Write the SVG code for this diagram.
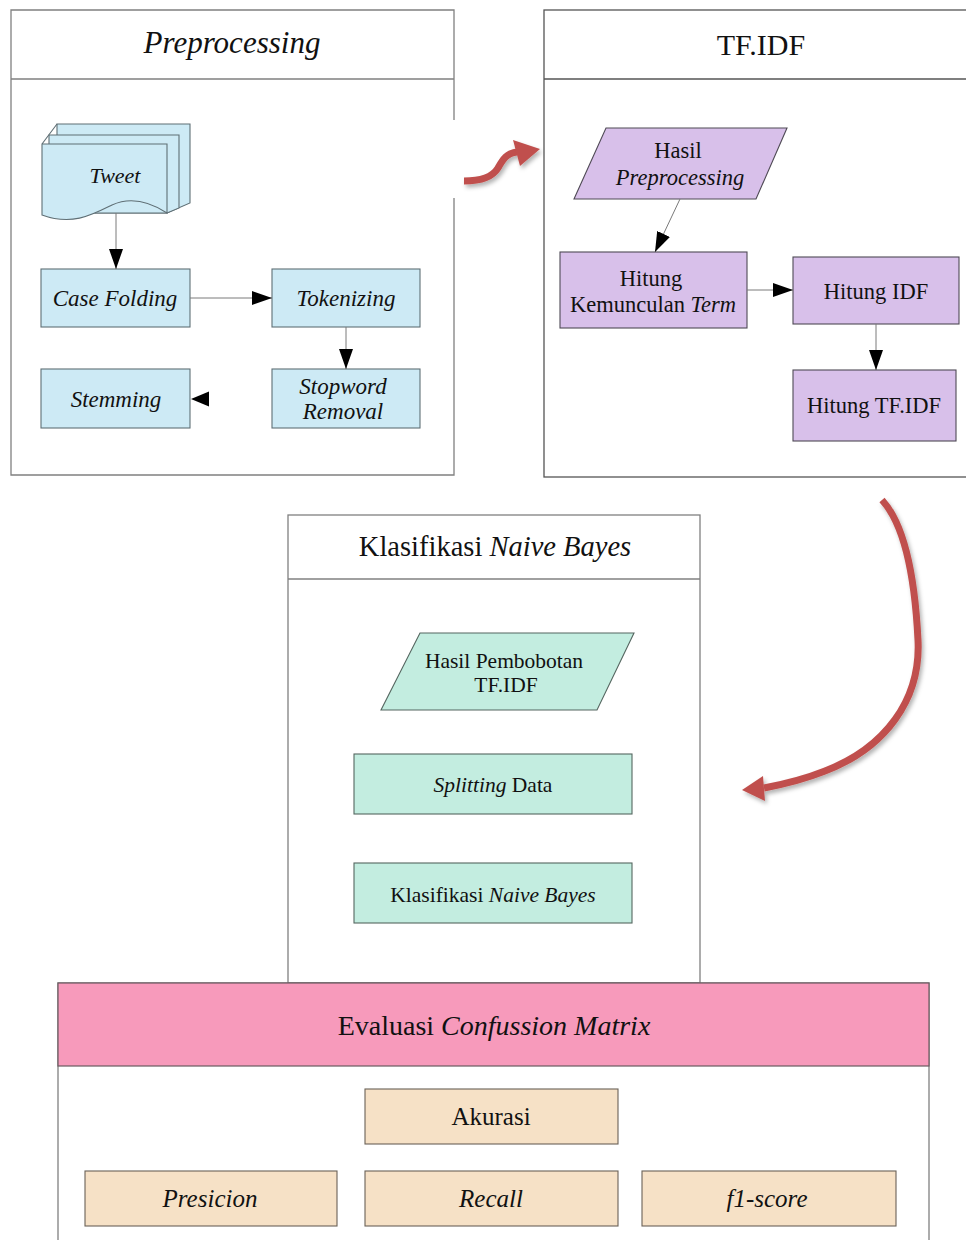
<svg xmlns="http://www.w3.org/2000/svg" width="966" height="1240" viewBox="0 0 966 1240">
<style>
text{font-family:"Liberation Serif","Times New Roman",serif;fill:#111;text-anchor:middle}
.it{font-style:italic}
.hdr{stroke:#808080;stroke-width:1.3;fill:none}
.blue{fill:#cdeaf5;stroke:#5f6f75;stroke-width:1.1}
.lav{fill:#d8c0ea;stroke:#4f4a55;stroke-width:1.1}
.mint{fill:#c3ede0;stroke:#556660;stroke-width:1.1}
.bis{fill:#f6e1c6;stroke:#6a6258;stroke-width:1.1}
.conn{stroke:#7a7a7a;stroke-width:1;fill:none}
.red{stroke:#c0504d;stroke-width:7;fill:none;stroke-linecap:butt}
.redh{fill:#c0504d}
</style>
<defs>
<marker id="ah" viewBox="0 0 20 14" markerWidth="20" markerHeight="14" refX="20" refY="7" orient="auto" markerUnits="userSpaceOnUse">
<path d="M0,0 L20,7 L0,14 Z" fill="#000"/>
</marker>
<filter id="sh" x="-20%" y="-20%" width="140%" height="140%">
<feDropShadow dx="2" dy="3" stdDeviation="2" flood-color="#000" flood-opacity="0.3"/>
</filter>
</defs>

<!-- Preprocessing container -->
<g id="preprocessing">
<rect x="11" y="10" width="443" height="465" fill="#fff"/>
<path class="hdr" d="M454,120 V10 H11 V475 H454 V198 M11,79 H454"/>
<text class="it" x="232" y="53" font-size="31">Preprocessing</text>
</g>

<g id="tweet">
<path class="blue" d="M57,124 H190 V203 L167,213 H57 Z"/>
<path class="blue" d="M49,135 H179 V208 L167,213 H49 Z"/>
<path class="blue" d="M42,144 L57,124 M42,144 H167 V213 C150,202 132,196 112,205 C92,215 72,226 42,215 Z"/>
<text class="it" x="115" y="183" font-size="22">Tweet</text>
</g>
<g id="case-folding">
<rect class="blue" x="41" y="269" width="149" height="58"/>
<text class="it" x="115" y="306" font-size="23">Case Folding</text>
</g>
<g id="tokenizing">
<rect class="blue" x="272" y="269" width="148" height="58"/>
<text class="it" x="346" y="306" font-size="23">Tokenizing</text>
</g>
<g id="stemming">
<rect class="blue" x="41" y="369" width="149" height="59"/>
<text class="it" x="116" y="407" font-size="23">Stemming</text>
</g>
<g id="stopword-removal">
<rect class="blue" x="272" y="369" width="148" height="59"/>
<text class="it" x="343" y="394" font-size="23">Stopword</text>
<text class="it" x="343" y="419" font-size="23">Removal</text>
</g>

<!-- TF.IDF container -->
<g id="tfidf">
<rect x="544" y="10" width="440" height="467" fill="#fff" stroke="#555" stroke-width="1.3"/>
<path d="M544,79 H984" stroke="#555" stroke-width="1.3"/>
<text x="761" y="55" font-size="30">TF.IDF</text>
</g>
<g id="hasil-preprocessing">
<polygon class="lav" points="606,128 787,128 756,199 574,199"/>
<text x="678" y="158" font-size="22.5">Hasil</text>
<text class="it" x="680" y="185" font-size="22.5">Preprocessing</text>
</g>
<g id="hitung-kemunculan">
<rect class="lav" x="560" y="252" width="187" height="76"/>
<text x="651" y="286" font-size="22.5">Hitung</text>
<text x="653" y="312" font-size="22.5">Kemunculan <tspan class="it">Term</tspan></text>
</g>
<g id="hitung-idf">
<rect class="lav" x="793" y="257" width="166" height="67"/>
<text x="876" y="299" font-size="22.5">Hitung IDF</text>
</g>
<g id="hitung-tfidf">
<rect class="lav" x="793" y="370" width="163" height="71"/>
<text x="874" y="413" font-size="22.5">Hitung TF.IDF</text>
</g>

<!-- Klasifikasi container -->
<g id="klasifikasi">
<rect x="288" y="515" width="412" height="468" fill="#fff" stroke="#808080" stroke-width="1.3"/>
<path class="hdr" d="M288,579 H700"/>
<text x="495" y="556" font-size="28.5">Klasifikasi <tspan class="it">Naive Bayes</tspan></text>
</g>
<g id="hasil-pembobotan">
<polygon class="mint" points="420,633 634,633 597,710 381,710"/>
<text x="504" y="668" font-size="21.5">Hasil Pembobotan</text>
<text x="506" y="692" font-size="21.5">TF.IDF</text>
</g>
<g id="splitting-data">
<rect class="mint" x="354" y="754" width="278" height="60"/>
<text x="493" y="792" font-size="21.5"><tspan class="it">Splitting</tspan> Data</text>
</g>
<g id="klasifikasi-nb">
<rect class="mint" x="354" y="863" width="278" height="60"/>
<text x="493" y="902" font-size="21.5">Klasifikasi <tspan class="it">Naive Bayes</tspan></text>
</g>

<!-- Evaluasi container -->
<g id="evaluasi">
<rect x="58" y="983" width="871" height="270" fill="#fff" stroke="#808080" stroke-width="1.3"/>
<rect x="58" y="983" width="871" height="83" fill="#f79abb" stroke="#6a5a60" stroke-width="1.2"/>
<text x="494" y="1035" font-size="28">Evaluasi <tspan class="it">Confussion Matrix</tspan></text>
</g>
<g id="akurasi">
<rect class="bis" x="365" y="1089" width="253" height="55"/>
<text x="491" y="1125" font-size="25">Akurasi</text>
</g>
<g id="presicion">
<rect class="bis" x="85" y="1171" width="252" height="55"/>
<text class="it" x="210" y="1207" font-size="25">Presicion</text>
</g>
<g id="recall">
<rect class="bis" x="365" y="1171" width="253" height="55"/>
<text class="it" x="491" y="1207" font-size="25">Recall</text>
</g>
<g id="f1-score">
<rect class="bis" x="642" y="1171" width="254" height="55"/>
<text class="it" x="767" y="1207" font-size="25">f1-score</text>
</g>

<!-- connectors -->
<g id="connectors">
<path class="conn" d="M116,213 V269" marker-end="url(#ah)"/>
<path class="conn" d="M190,298 H272" marker-end="url(#ah)"/>
<path class="conn" d="M346,327 V369" marker-end="url(#ah)"/>
<polygon points="191,399 209,391.5 209,406.5" fill="#000"/>
<path class="conn" d="M680,199 L655,252" marker-end="url(#ah)"/>
<path class="conn" d="M747,290 H793" marker-end="url(#ah)"/>
<path class="conn" d="M876,324 V370" marker-end="url(#ah)"/>
<g filter="url(#sh)">
<path class="red" d="M464,181 C480,181 492,178 498,168 C503,159 507,153 517,152"/>
<polygon class="redh" points="540,149 513,140 520,166"/>
<path class="red" d="M882,500 C905,525 915,580 918,640 C921,700 885,748 825,771 C805,779 785,784 764,788"/>
<polygon class="redh" points="742,790 763,776 765,801"/>
</g>
</g>
</svg>
